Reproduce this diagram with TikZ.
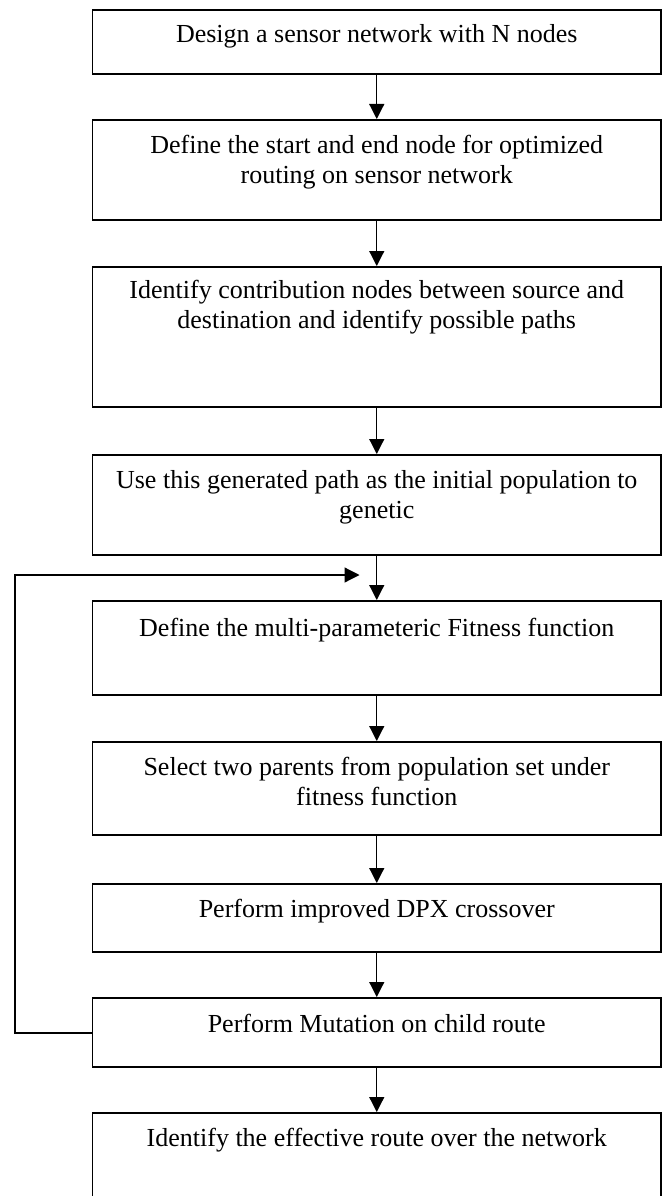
\documentclass[tikz,border=0pt]{standalone}
\usepackage{fontspec}
\setmainfont{Liberation Serif}
\usetikzlibrary{arrows.meta}
\begin{document}
\begin{tikzpicture}[x=1pt,y=-1pt,
  box/.style={draw=black, line width=1.7pt, minimum width=568.5pt, inner sep=0pt, anchor=north},
  txt/.style={font=\fontsize{26}{30}\selectfont, align=center, inner sep=0pt, anchor=base},
  flow/.style={line width=1.2pt, -{Triangle[length=15pt,width=15pt]}}]
\clip (0,0) rectangle (663,1196);
\fill[white] (0,0) rectangle (663,1196);
% boxes
\node[box, minimum height=64pt]  (b1) at (376.75,9) {};
\node[box, minimum height=100pt] (b2) at (376.75,119) {};
\node[box, minimum height=140pt] (b3) at (376.75,266) {};
\node[box, minimum height=100pt] (b4) at (376.75,454) {};
\node[box, minimum height=94pt]  (b5) at (376.75,600) {};
\node[box, minimum height=93pt]  (b6) at (376.75,741) {};
\node[box, minimum height=68pt]  (b7) at (376.75,883) {};
\node[box, minimum height=69pt]  (b8) at (376.75,997) {};
\node[box, minimum height=110pt] (b9) at (376.75,1112) {};
% texts (base anchor = baseline of the last line)
\node[txt] (t1) at ([yshift=-33.5pt]b1.north) {Design a sensor network with N nodes};
\node[txt] (t2) at ([yshift=-64pt]b2.north) {Define the start and end node for optimized\\routing on sensor network};
\node[txt] (t3) at ([yshift=-62pt]b3.north) {Identify contribution nodes between source and\\destination and identify possible paths};
\node[txt] (t4) at ([yshift=-64pt]b4.north) {Use this generated path as the initial population to\\genetic};
\node[txt] (t5) at ([yshift=-36pt]b5.north) {Define the multi-parameteric Fitness function};
\node[txt] (t6) at ([yshift=-64pt]b6.north) {Select two parents from population set under\\fitness function};
\node[txt] (t7) at ([yshift=-34pt]b7.north) {Perform improved DPX crossover};
\node[txt] (t8) at ([yshift=-35.5pt]b8.north) {Perform Mutation on child route};
\node[txt] (t9) at ([yshift=-34.7pt]b9.north) {Identify the effective route over the network};
% arrows
\draw[flow] (b1) -- (b2);
\draw[flow] (b2) -- (b3);
\draw[flow] (b3) -- (b4);
\draw[flow] (b4) -- (b5);
\draw[flow] (b5) -- (b6);
\draw[flow] (b6) -- (b7);
\draw[flow] (b7) -- (b8);
\draw[flow] (b8) -- (b9);
% feedback loop
\coordinate (fb) at (359.5,575);
\draw[flow] (b8.west |- 0,1033) -| (15,575) -- (fb);
\end{tikzpicture}
\end{document}
